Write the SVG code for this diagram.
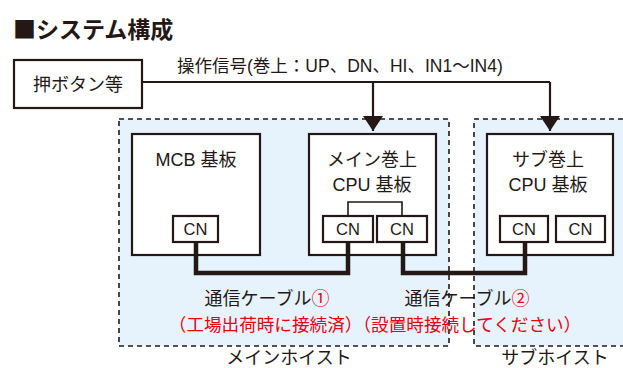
<svg xmlns="http://www.w3.org/2000/svg" width="623" height="368" viewBox="0 0 623 368">
<style>
text{font-family:"Liberation Sans","Noto Sans CJK JP",sans-serif;fill:#231815;}
.t{font-size:18px;text-anchor:middle;}
.cn{font-size:16.5px;text-anchor:middle;}
.red{fill:#e60012;}
.area{fill:#e6f3fc;stroke:#231815;stroke-width:1.6;stroke-dasharray:5 4;}
.box{fill:#fff;stroke:#231815;stroke-width:2.2;}
.line{fill:none;stroke:#231815;stroke-width:2.2;}
.thin{fill:none;stroke:#231815;stroke-width:1.6;}
.cable{fill:none;stroke:#231815;stroke-width:4.5;stroke-linejoin:miter;}
</style>
<defs>
<marker id="ah" viewBox="0 0 15 20" refX="15" refY="10" markerWidth="15" markerHeight="20" markerUnits="userSpaceOnUse" orient="auto">
<path d="M0,0 L15,10 L0,20 Z" fill="#231815"/>
</marker>
</defs>
<rect width="623" height="368" fill="#fff"/>
<text x="13" y="38" style="font-size:23px;font-weight:bold;"><tspan style="font-family:'Noto Sans CJK JP',sans-serif;">■</tspan>システム構成</text>
<g id="mainHoist">
<rect class="area" x="119" y="119" width="330" height="227"/>
<text class="t" x="289" y="364">メインホイスト</text>
</g>
<g id="subHoist">
<rect class="area" x="474" y="119" width="160" height="227"/>
<text class="t" x="555" y="364">サブホイスト</text>
</g>
<g id="button">
<rect class="box" x="14" y="60" width="128" height="48"/>
<text class="t" x="78" y="91">押ボタン等</text>
</g>
<g id="mcb">
<rect class="box" x="132" y="134" width="128" height="121"/>
<text class="t" x="196" y="166">MCB 基板</text>
<g id="mcbCN">
<rect class="box" x="173" y="216" width="45" height="26"/>
<text class="cn" x="195.5" y="235">CN</text>
</g>
</g>
<g id="mainCPU">
<rect class="box" x="309" y="134" width="127" height="121"/>
<text class="t" x="372" y="166">メイン巻上</text>
<text class="t" x="372" y="191">CPU 基板</text>
<g id="mainCN1">
<rect class="box" x="323" y="216" width="50" height="26"/>
<text class="cn" x="348" y="235">CN</text>
</g>
<g id="mainCN2">
<rect class="box" x="377" y="216" width="50" height="26"/>
<text class="cn" x="402" y="235">CN</text>
</g>
</g>
<g id="subCPU">
<rect class="box" x="487" y="134" width="126" height="121"/>
<text class="t" x="548" y="166">サブ巻上</text>
<text class="t" x="548" y="191">CPU 基板</text>
<g id="subCN1">
<rect class="box" x="500" y="216" width="48" height="26"/>
<text class="cn" x="524" y="235">CN</text>
</g>
<g id="subCN2">
<rect class="box" x="556" y="216" width="49" height="26"/>
<text class="cn" x="580.5" y="235">CN</text>
</g>
</g>
<g id="connectors">
<polyline class="line" points="142,82 550,82"/>
<polyline class="line" points="373,82 373,131" marker-end="url(#ah)"/>
<polyline class="line" points="550,82 550,131" marker-end="url(#ah)"/>
<polyline class="thin" points="348,216 348,202 402,202 402,216"/>
<polyline class="cable" points="196,242 196,273 348,273 348,242"/>
<polyline class="cable" points="403,242 403,273 525,273 525,242"/>
</g>
<text x="177" y="72" style="font-size:17.5px;">操作信号(巻上：UP、DN、HI、IN1～IN4)</text>
<text class="t" x="267" y="305">通信ケーブル<tspan class="red">①</tspan></text>
<text class="t" x="467" y="305">通信ケーブル<tspan class="red">②</tspan></text>
<text class="t red" x="375" y="331" style="font-size:17.6px;">（工場出荷時に接続済）（設置時接続してください）</text>
</svg>
